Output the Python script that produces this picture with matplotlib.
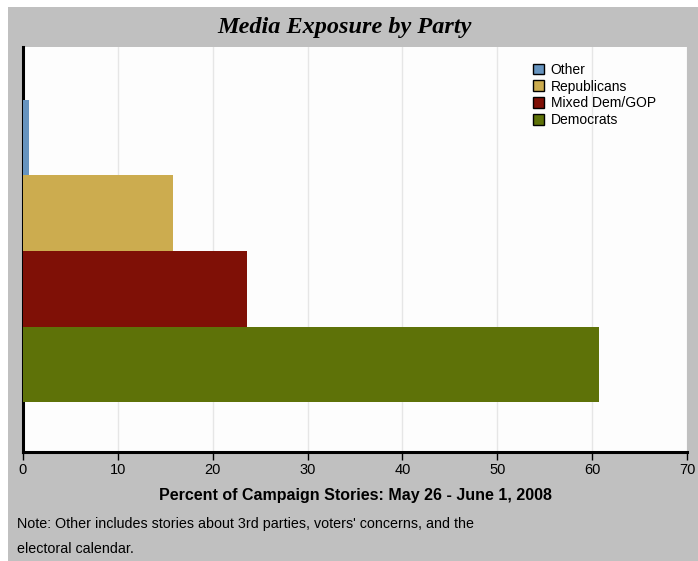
import matplotlib
matplotlib.use("Agg")
import matplotlib.pyplot as plt
from matplotlib.patches import Patch, Rectangle

categories = ["Democrats", "Mixed Dem/GOP", "Republicans", "Other"]
values = [60.7, 23.6, 15.8, 0.6]
colors = ["#5e7208", "#7f1006", "#ccac4f", "#6794bf"]
xticks = [0, 10, 20, 30, 40, 50, 60, 70]
legend_order = ["Other", "Republicans", "Mixed Dem/GOP", "Democrats"]

sans = ["Liberation Sans", "DejaVu Sans"]

fig = plt.figure(figsize=(6.98, 5.61), dpi=100)
fig.patch.set_facecolor("#c0c0c0")
W, H = 698, 561
# white margins at top and left
fig.patches.append(Rectangle((0, 1 - 7 / H), 1, 7 / H, transform=fig.transFigure,
                             facecolor="white", edgecolor="none", zorder=-1))
fig.patches.append(Rectangle((0, 0), 8 / W, 1, transform=fig.transFigure,
                             facecolor="white", edgecolor="none", zorder=-1))

ax = fig.add_axes([23 / W, 1 - 452 / H, (687 - 23) / W, (452 - 47) / H])
ax.set_facecolor("#fdfdfd")
ypos = list(range(len(categories)))
ax.barh(ypos, values, height=1.0, color=colors, edgecolor="none", zorder=3)
ax.set_xlim(0, 70)
ax.set_ylim(-1.16, 4.2)
ax.set_xticks(xticks)
ax.set_xticklabels([str(t) for t in xticks], fontfamily=sans, fontsize=10.5)
ax.set_yticks([])
ax.grid(axis="x", color="#e6e6e6", linewidth=1, zorder=0)
for s in ["top", "right"]:
    ax.spines[s].set_visible(False)
ax.spines["left"].set_linewidth(2.2)
ax.spines["bottom"].set_linewidth(2.2)
ax.tick_params(axis="x", length=6, width=1, direction="out", pad=2, color="black")

ax.set_xlabel("Percent of Campaign Stories: May 26 - June 1, 2008",
              fontfamily=sans, fontweight="bold", fontsize=11.5, labelpad=8)

handles = [Patch(facecolor=colors[categories.index(n)], edgecolor="black", linewidth=1, label=n)
           for n in legend_order]
leg = ax.legend(handles=handles, loc="upper left", bbox_to_anchor=((523 - 23) / 664, 1 - (53 - 47) / 405),
                frameon=False, prop={"family": sans, "size": 10}, handlelength=0.8, handleheight=0.8,
                handletextpad=0.5, labelspacing=0.2, borderpad=0.2)

fig.text(345 / W, 1 - 27 / H, "Media Exposure by Party", ha="center", va="center",
         fontfamily=["Liberation Serif", "DejaVu Serif"], fontstyle="italic", fontweight="bold",
         fontsize=17.5)
fig.text(17 / W, 1 - 524 / H, "Note: Other includes stories about 3rd parties, voters' concerns, and the",
         ha="left", va="center", fontfamily=sans, fontsize=10.3)
fig.text(17 / W, 1 - 549 / H, "electoral calendar.", ha="left", va="center",
         fontfamily=sans, fontsize=10.3)

fig.savefig("out.png", dpi=100, facecolor=fig.get_facecolor())
